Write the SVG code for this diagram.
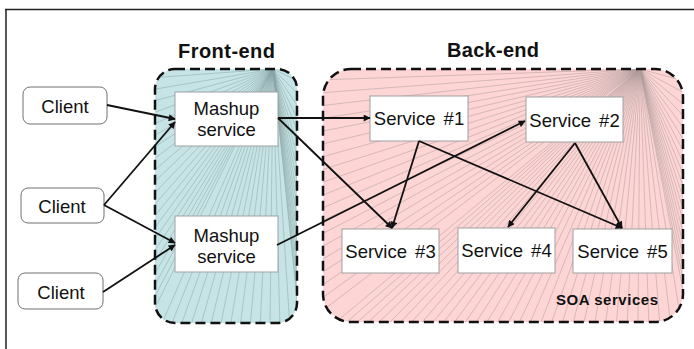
<svg xmlns="http://www.w3.org/2000/svg" width="694" height="349" viewBox="0 0 694 349">
  <style>
    .title { font-family: "Liberation Sans", Arial, sans-serif; font-weight: bold; font-size: 20px; fill: #111; }
    .label { font-family: "Liberation Sans", Arial, sans-serif; font-size: 18.5px; fill: #111; text-anchor: middle; }
    .soa { font-family: "Liberation Sans", Arial, sans-serif; font-weight: bold; font-size: 15px; fill: #111; }
    .client { fill: #fff; stroke: #707070; stroke-width: 1; }
    .box { fill: #fff; stroke: #a0a0a0; stroke-width: 1; }
    .zone { stroke: #111; stroke-width: 2.5; stroke-dasharray: 10 5; }
    .rays { fill: none; stroke-width: 0.5; }
    .edge { fill: none; stroke: #111; stroke-width: 1.8; marker-end: url(#arrow); }
  </style>
  <defs>
    <marker id="arrow" viewBox="0 0 10 10" refX="9" refY="5" markerWidth="8" markerHeight="7" markerUnits="userSpaceOnUse" orient="auto">
      <path d="M0,0 L10,5 L0,10 z" fill="#111"/>
    </marker>
    <clipPath id="clipFront">
      <rect x="155" y="69" width="142" height="254" rx="20"/>
    </clipPath>
    <clipPath id="clipBack">
      <rect x="323" y="69" width="360" height="253" rx="28"/>
    </clipPath>
  </defs>

  <rect width="694" height="349" fill="#fff"/>
  <!-- page frame -->
  <path d="M5 9.5H694M6 9V349" stroke="#222" stroke-width="1.5" fill="none"/>

  <!-- front-end zone -->
  <g id="front-end">
    <rect x="155" y="69" width="142" height="254" rx="20" fill="#c6e4e5"/>
    <g clip-path="url(#clipFront)">
      <path class="rays" stroke="#8aa5a7" d="M273 69L150 78M273 69L150 90M273 69L150 102M273 69L150 114M273 69L150 126M273 69L150 138M273 69L150 150M273 69L150 162M273 69L150 174M273 69L150 186M273 69L150 198M273 69L150 210M273 69L150 222M273 69L150 234M273 69L150 246M273 69L150 258M273 69L150 270M273 69L150 282M273 69L150 294M273 69L150 306M273 69L150 318M273 69L160 328M273 69L170 328M273 69L180 328M273 69L190 328M273 69L200 328M273 69L210 328M273 69L220 328M273 69L230 328M273 69L240 328M273 69L250 328M273 69L260 328M273 69L270 328M273 69L280 328M273 69L290 328M273 69L300 328M273 69L300 82M273 69L300 96M273 69L300 110M273 69L300 124M273 69L300 138M273 69L300 152M273 69L300 166M273 69L300 180M273 69L300 194M273 69L300 208M273 69L300 222M273 69L300 236M273 69L300 250M273 69L300 264M273 69L300 278M273 69L300 292M273 69L300 306M273 69L300 320"/>
    </g>
    <rect class="zone" x="155" y="69" width="142" height="254" rx="20" fill="none"/>
    <text class="title" x="178" y="58" textLength="97" lengthAdjust="spacing">Front-end</text>
  </g>

  <!-- back-end zone -->
  <g id="back-end">
    <rect x="323" y="69" width="360" height="253" rx="28" fill="#fdd5d5"/>
    <g clip-path="url(#clipBack)">
      <path class="rays" stroke="#ae9a9a" d="M640 69L318 80M640 69L318 93M640 69L318 106M640 69L318 119M640 69L318 132M640 69L318 145M640 69L318 158M640 69L318 171M640 69L318 184M640 69L318 197M640 69L318 210M640 69L318 223M640 69L318 236M640 69L318 249M640 69L318 262M640 69L318 275M640 69L318 288M640 69L318 301M640 69L318 314M640 69L330 327M640 69L341 327M640 69L352 327M640 69L363 327M640 69L374 327M640 69L385 327M640 69L396 327M640 69L407 327M640 69L418 327M640 69L429 327M640 69L440 327M640 69L451 327M640 69L462 327M640 69L473 327M640 69L484 327M640 69L495 327M640 69L506 327M640 69L517 327M640 69L528 327M640 69L539 327M640 69L550 327M640 69L561 327M640 69L572 327M640 69L583 327M640 69L594 327M640 69L605 327M640 69L616 327M640 69L627 327M640 69L638 327M640 69L649 327M640 69L660 327M640 69L671 327M640 69L682 327M640 69L688 82M640 69L688 95M640 69L688 108M640 69L688 121M640 69L688 134M640 69L688 147M640 69L688 160M640 69L688 173M640 69L688 186M640 69L688 199M640 69L688 212M640 69L688 225M640 69L688 238M640 69L688 251M640 69L688 264M640 69L688 277M640 69L688 290M640 69L688 303M640 69L688 316"/>
    </g>
    <rect class="zone" x="323" y="69" width="360" height="253" rx="28" fill="none"/>
    <text class="title" x="447" y="57" textLength="92" lengthAdjust="spacing">Back-end</text>
    <text class="soa" x="556" y="305" textLength="102" lengthAdjust="spacing">SOA services</text>
  </g>

  <!-- clients -->
  <g id="client-1">
    <rect class="client" x="23" y="87" width="84" height="37" rx="7"/>
    <text class="label" x="65" y="113" font-size="20">Client</text>
  </g>
  <g id="client-2">
    <rect class="client" x="21" y="188" width="83" height="35" rx="7"/>
    <text class="label" x="62" y="213" font-size="20">Client</text>
  </g>
  <g id="client-3">
    <rect class="client" x="18" y="273" width="85" height="36" rx="7"/>
    <text class="label" x="61" y="299" font-size="20">Client</text>
  </g>

  <!-- mashup services -->
  <g id="mashup-1">
    <rect class="box" x="175" y="92" width="103" height="54"/>
    <text class="label" x="226.5" y="115">Mashup</text>
    <text class="label" x="226.5" y="136">service</text>
  </g>
  <g id="mashup-2">
    <rect class="box" x="175" y="216" width="103" height="56"/>
    <text class="label" x="226.5" y="242">Mashup</text>
    <text class="label" x="226.5" y="263">service</text>
  </g>

  <!-- SOA services -->
  <g id="service-1">
    <rect class="box" x="370" y="96" width="98" height="45"/>
    <text class="label" x="419" y="125" word-spacing="3">Service #1</text>
  </g>
  <g id="service-2">
    <rect class="box" x="526" y="97" width="97" height="45"/>
    <text class="label" x="574.5" y="127" word-spacing="3">Service #2</text>
  </g>
  <g id="service-3">
    <rect class="box" x="342" y="229" width="97" height="44"/>
    <text class="label" x="390.5" y="258" word-spacing="3">Service #3</text>
  </g>
  <g id="service-4">
    <rect class="box" x="458" y="228" width="97" height="45"/>
    <text class="label" x="506.5" y="257" word-spacing="3">Service #4</text>
  </g>
  <g id="service-5">
    <rect class="box" x="573" y="229" width="99" height="44"/>
    <text class="label" x="622.5" y="258" word-spacing="3">Service #5</text>
  </g>

  <!-- connectors -->
  <g id="connectors">
    <path class="edge" d="M107 105L175 119"/>
    <path class="edge" d="M104 205L175 122"/>
    <path class="edge" d="M104 205L175 243"/>
    <path class="edge" d="M103 292L175 245"/>
    <path class="edge" d="M278 118L370 118"/>
    <path class="edge" d="M278 118L392 228"/>
    <path class="edge" d="M277 245L525 121"/>
    <path class="edge" d="M419 141L392 228"/>
    <path class="edge" d="M419 141L622 228"/>
    <path class="edge" d="M575 143L508 227"/>
    <path class="edge" d="M575 143L622 228"/>
  </g>
</svg>
